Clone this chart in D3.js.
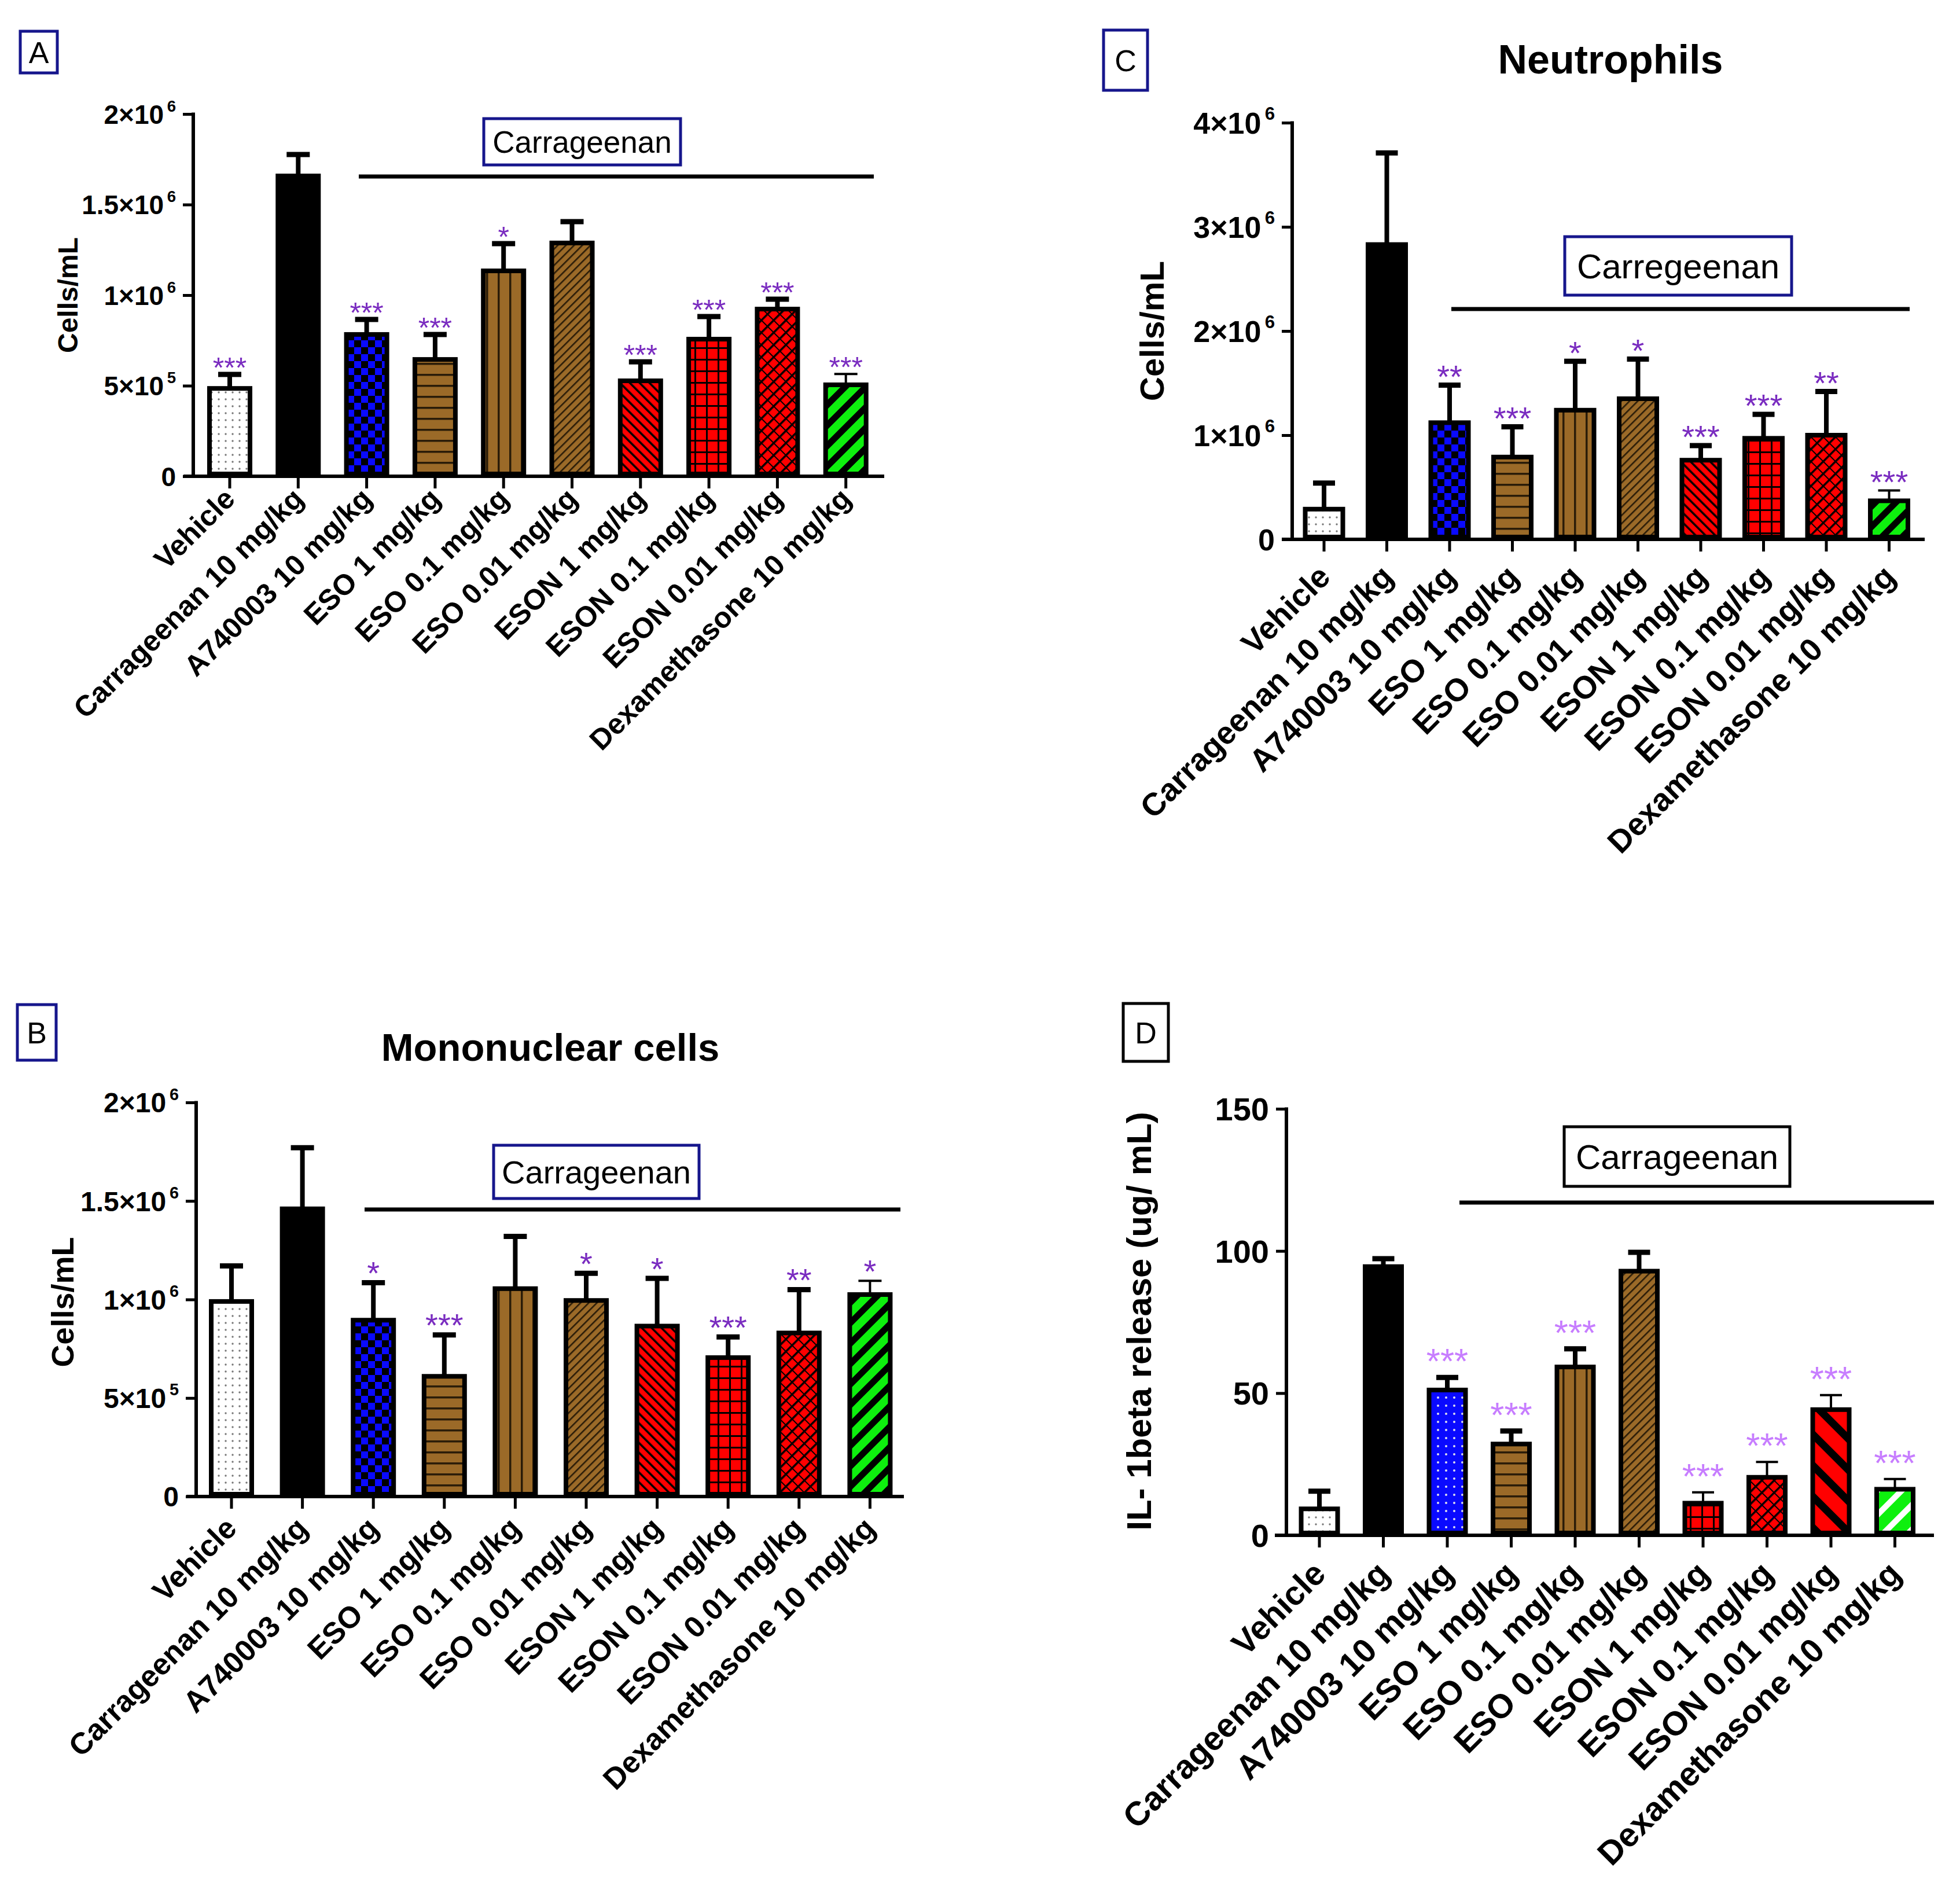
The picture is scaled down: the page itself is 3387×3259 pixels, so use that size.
<!DOCTYPE html>
<html>
<head>
<meta charset="utf-8">
<script src="https://cdn.jsdelivr.net/npm/d3@7"></script>
<style>
  body { margin: 0; background: #fff; }
  text { font-family: "Liberation Sans", Arial, sans-serif; }
</style>
</head>
<body>
<svg id="fig" width="3387" height="3259"></svg>
<script>

// treatment groups, same order in every panel
var groups = ["Vehicle", "Carrageenan 10 mg/kg", "A740003 10 mg/kg", "ESO 1 mg/kg",
  "ESO 0.1 mg/kg", "ESO 0.01 mg/kg", "ESON 1 mg/kg", "ESON 0.1 mg/kg",
  "ESON 0.01 mg/kg", "Dexamethasone 10 mg/kg"];

// A - total leukocytes (cells/mL)
var totalMean = [485000, 1658000, 783000, 645000, 1134000, 1288000, 527000, 757000, 923000, 505000];
var totalSem = [77000, 118000, 83000, 138000, 150000, 118000, 105000, 125000, 55000, 60000];
var totalStars = ["***", "", "***", "***", "*", "", "***", "***", "***", "***"];

// B - mononuclear cells (cells/mL)
var monoMean = [990000, 1460000, 895000, 610000, 1055000, 995000, 865000, 705000, 830000, 1025000];
var monoSem = [180000, 310000, 190000, 210000, 265000, 138000, 242000, 105000, 220000, 70000];
var monoStars = ["", "", "*", "***", "", "*", "*", "***", "**", "*"];

// C - neutrophils (cells/mL)
var neutMean = [290000, 2830000, 1120000, 790000, 1240000, 1350000, 760000, 970000, 1000000, 370000];
var neutSem = [250000, 880000, 360000, 290000, 470000, 380000, 140000, 230000, 420000, 100000];
var neutStars = ["", "", "**", "***", "*", "*", "***", "***", "**", "***"];

// D - IL-1beta release (ug/mL)
var il1Mean = [9.3, 94.5, 51.1, 32.1, 59.2, 92.9, 11.3, 20.4, 44.2, 16.2];
var il1Sem = [6.2, 2.8, 4.4, 4.6, 6.4, 6.6, 3.8, 5.4, 5.1, 3.6];
var il1Stars = ["", "", "***", "***", "***", "", "***", "***", "***", "***"];

// y tick values
var cellTicks2 = [0, 500000, 1000000, 1500000, 2000000];
var cellTicks4 = [0, 1000000, 2000000, 3000000, 4000000];
var il1Ticks = [0, 50, 100, 150];

// bar fills and error bar weight per group
var fillsABC = ["dots", "black", "checker", "brownH", "brownV", "brownD", "redBack", "redGrid", "redWeave", "greenBlack"];
var fillsD = ["dots", "black", "blueDots", "brownH", "brownV", "brownD", "redGrid", "redWeave", "redStripe", "greenWhite"];
var thinABC = [0, 0, 0, 0, 0, 0, 0, 0, 0, 1];
var thinD = [0, 0, 0, 0, 0, 0, 1, 1, 1, 1];

var navy = "#16168c";
var brown = "#9b6a28";
var red = "#ff0000";
var blue = "#0a0aff";
var green = "#0ef00e";

var svg = d3.select("#fig");
svg.append("rect").attr("width", 3387).attr("height", 3259).attr("fill", "#fff");

// ---------- patterns ----------
var defs = svg.append("defs");

function pat(id, w, h, bg, rot) {
  var p = defs.append("pattern").attr("id", id)
    .attr("patternUnits", "userSpaceOnUse")
    .attr("width", w).attr("height", h);
  if (rot) p.attr("patternTransform", "rotate(" + rot + ")");
  p.append("rect").attr("width", w).attr("height", h).attr("fill", bg);
  return p;
}

var p;
p = pat("dots", 12, 12, "#fff");
p.append("circle").attr("cx", 6).attr("cy", 6).attr("r", 1.7).attr("fill", "#777");

p = pat("black", 10, 10, "#000");

p = pat("checker", 24, 24, blue);
p.append("rect").attr("width", 12).attr("height", 12).attr("fill", "#000");
p.append("rect").attr("x", 12).attr("y", 12).attr("width", 12).attr("height", 12).attr("fill", "#000");

p = pat("blueDots", 14, 14, blue);
p.append("circle").attr("cx", 7).attr("cy", 7).attr("r", 2).attr("fill", "#dde");

p = pat("brownH", 20, 19, brown);
p.append("rect").attr("y", 0).attr("width", 20).attr("height", 3.5).attr("fill", "#2a1c08");

p = pat("brownV", 20, 20, brown);
p.append("rect").attr("x", 0).attr("width", 3.5).attr("height", 20).attr("fill", "#2a1c08");

p = pat("brownD", 10, 10, brown, 45);
p.append("rect").attr("width", 2.6).attr("height", 10).attr("fill", "#2a1c08");

p = pat("redBack", 12, 12, red, -45);
p.append("rect").attr("width", 3.5).attr("height", 12).attr("fill", "#000");

p = pat("redGrid", 20, 20, red);
p.append("rect").attr("width", 20).attr("height", 3).attr("fill", "#000");
p.append("rect").attr("width", 3).attr("height", 20).attr("fill", "#000");

p = pat("redWeave", 15, 15, red, 45);
p.append("rect").attr("width", 3.5).attr("height", 15).attr("fill", "#000");
p.append("rect").attr("width", 15).attr("height", 2).attr("fill", "#000");

p = pat("redStripe", 38, 38, red, -45);
p.append("rect").attr("width", 13).attr("height", 38).attr("fill", "#000");

p = pat("greenBlack", 25, 25, green, 45);
p.append("rect").attr("width", 11).attr("height", 25).attr("fill", "#000");

p = pat("greenWhite", 30, 30, green, 45);
p.append("rect").attr("width", 10).attr("height", 30).attr("fill", "#fff");

// ---------- helpers ----------
function tickLabel(sel, v, fs) {
  if (v === 0 || v < 1000) { sel.text(v); return; }
  var e = Math.floor(Math.log10(v) + 1e-9);
  var m = +(v / Math.pow(10, e)).toFixed(2);
  sel.text(m + "\u00d710");
  sel.append("tspan").attr("font-size", fs * 0.6).attr("dx", fs * 0.12).attr("dy", -fs * 0.45).text(e);
}

function drawPanel(c) {
  var g = svg.append("g");
  var data = groups.map(function (name, i) {
    return { name: name, mean: c.mean[i], sem: c.sem[i], star: c.stars[i], fill: c.fills[i], thin: c.thin[i] };
  });

  var pad = 1 - c.barW / c.step;
  var x = d3.scaleBand().domain(groups)
    .range([c.c0 - c.step / 2, c.c0 + c.step * (groups.length - 0.5)])
    .paddingInner(pad).paddingOuter(pad / 2);
  var y = d3.scaleLinear().domain([0, c.ticks[c.ticks.length - 1]]).range([c.y0, c.yTop]);

  // y axis
  var ya = g.append("g").attr("transform", "translate(" + c.ax + ",0)")
    .call(d3.axisLeft(y).tickValues(c.ticks).tickSize(c.tick).tickSizeOuter(0).tickFormat(""));
  ya.select(".domain").remove();
  ya.selectAll(".tick line").attr("stroke", "#000").attr("stroke-width", 5);
  g.append("line").attr("x1", c.ax).attr("x2", c.ax).attr("y1", c.y0 + 3).attr("y2", c.yTop - 2.5)
    .attr("stroke", "#000").attr("stroke-width", 6);

  g.selectAll("text.yt").data(c.ticks).join("text").attr("class", "yt")
    .attr("x", c.ax - c.tick - 12).attr("y", function (d) { return y(d) + c.tfs * 0.36; })
    .attr("text-anchor", "end").attr("font-weight", "bold").attr("font-size", c.tfs)
    .each(function (d) { tickLabel(d3.select(this), d, c.tfs); });

  // x axis
  var xa = g.append("g").attr("transform", "translate(0," + c.y0 + ")")
    .call(d3.axisBottom(x).tickSize(c.tick + 3).tickSizeOuter(0).tickFormat(""));
  xa.select(".domain").remove();
  xa.selectAll(".tick line").attr("stroke", "#000").attr("stroke-width", 5);
  g.append("line").attr("x1", c.xs).attr("x2", c.xe).attr("y1", c.y0).attr("y2", c.y0)
    .attr("stroke", "#000").attr("stroke-width", 6);

  // bars
  var sw = c.sw;
  g.selectAll("rect.bar").data(data).join("rect").attr("class", "bar")
    .attr("x", function (d) { return x(d.name) + sw / 2; })
    .attr("width", x.bandwidth() - sw)
    .attr("y", function (d) { return y(d.mean); })
    .attr("height", function (d) { return c.y0 - y(d.mean) - sw / 2; })
    .attr("fill", function (d) { return "url(#" + d.fill + ")"; })
    .attr("stroke", "#000").attr("stroke-width", sw);

  // error bars (upper only)
  var eb = g.selectAll("g.err").data(data).join("g").attr("class", "err");
  eb.append("line")
    .attr("x1", function (d) { return x(d.name) + x.bandwidth() / 2; })
    .attr("x2", function (d) { return x(d.name) + x.bandwidth() / 2; })
    .attr("y1", function (d) { return y(d.mean); })
    .attr("y2", function (d) { return y(d.mean + d.sem); })
    .attr("stroke", "#000").attr("stroke-width", function (d) { return d.thin ? 4 : 8; });
  eb.append("line")
    .attr("x1", function (d) { return x(d.name) + x.bandwidth() / 2 - c.cap / 2; })
    .attr("x2", function (d) { return x(d.name) + x.bandwidth() / 2 + c.cap / 2; })
    .attr("y1", function (d) { return y(d.mean + d.sem); })
    .attr("y2", function (d) { return y(d.mean + d.sem); })
    .attr("stroke", "#000").attr("stroke-width", function (d) { return d.thin ? 4 : 9; });

  // significance stars
  g.selectAll("text.star").data(data).join("text").attr("class", "star")
    .attr("x", function (d) { return x(d.name) + x.bandwidth() / 2; })
    .attr("y", function (d) { return y(d.mean + d.sem) - c.starGap + c.sfs * 0.58; })
    .attr("text-anchor", "middle").attr("font-size", c.sfs).attr("fill", c.starColor)
    .text(function (d) { return d.star; });

  // category labels
  g.selectAll("text.xl").data(data).join("text").attr("class", "xl")
    .attr("transform", function (d) {
      return "translate(" + (x(d.name) + x.bandwidth() / 2 + c.lx) + "," + (c.y0 + c.ly) + ") rotate(-45)";
    })
    .attr("text-anchor", "end").attr("font-weight", "bold").attr("font-size", c.xfs)
    .text(function (d) { return d.name; });

  // y title
  g.append("text")
    .attr("transform", "translate(" + (c.ytx + c.yfs * 0.36) + "," + c.yty + ") rotate(-90)")
    .attr("text-anchor", "middle").attr("font-weight", "bold").attr("font-size", c.yfs)
    .text(c.ytitle);

  // panel title
  if (c.title) {
    g.append("text").attr("x", c.titleX).attr("y", c.titleY + c.titleFs * 0.36)
      .attr("text-anchor", "middle").attr("font-weight", "bold").attr("font-size", c.titleFs)
      .text(c.title);
  }

  // treatment bracket and boxed label
  g.append("line").attr("x1", c.line[0]).attr("x2", c.line[1]).attr("y1", c.line[2]).attr("y2", c.line[2])
    .attr("stroke", "#000").attr("stroke-width", 7);
  g.append("rect").attr("x", c.box[0]).attr("y", c.box[1]).attr("width", c.box[2]).attr("height", c.box[3])
    .attr("fill", "#fff").attr("stroke", c.boxColor).attr("stroke-width", 5);
  g.append("text").attr("x", c.box[0] + c.box[2] / 2).attr("y", c.box[1] + c.box[3] / 2 + c.boxFs * 0.36)
    .attr("text-anchor", "middle").attr("font-size", c.boxFs).text(c.boxText);

  // panel letter
  g.append("rect").attr("x", c.tag[0]).attr("y", c.tag[1]).attr("width", c.tag[2]).attr("height", c.tag[3])
    .attr("fill", "none").attr("stroke", c.boxColor).attr("stroke-width", 5);
  g.append("text").attr("x", c.tag[0] + c.tag[2] / 2).attr("y", c.tag[1] + c.tag[3] / 2 + 19)
    .attr("text-anchor", "middle").attr("font-size", 52).text(c.letter);
}

drawPanel({
  mean: totalMean, sem: totalSem, stars: totalStars, fills: fillsABC, thin: thinABC, ticks: cellTicks2,
  ax: 334, y0: 823, yTop: 197, c0: 397, step: 118.3, barW: 78, sw: 8, xs: 317, xe: 1528, tick: 18,
  tfs: 46, xfs: 50, lx: 12, ly: 42, cap: 40, sfs: 50, starGap: 23, starColor: "#7a2cc0",
  ytitle: "Cells/mL", ytx: 117, yty: 510, yfs: 48,
  line: [620, 1510, 305], box: [836, 205, 340, 80], boxFs: 53, boxText: "Carrageenan", boxColor: navy,
  tag: [35, 54, 64, 72], letter: "A"
});

drawPanel({
  mean: monoMean, sem: monoSem, stars: monoStars, fills: fillsABC, thin: thinABC, ticks: cellTicks2,
  ax: 339, y0: 2586, yTop: 1905, c0: 400, step: 122.6, barW: 78, sw: 8, xs: 322, xe: 1562, tick: 18,
  tfs: 48, xfs: 52, lx: 12, ly: 58, cap: 40, sfs: 56, starGap: 30, starColor: "#7a2cc0",
  ytitle: "Cells/mL", ytx: 108, yty: 2250, yfs: 54,
  title: "Mononuclear cells", titleX: 951, titleY: 1809, titleFs: 67,
  line: [630, 1556, 2090], box: [853, 1979, 355, 92], boxFs: 56, boxText: "Carrageenan", boxColor: navy,
  tag: [30, 1736, 67, 96], letter: "B"
});

drawPanel({
  mean: neutMean, sem: neutSem, stars: neutStars, fills: fillsABC, thin: thinABC, ticks: cellTicks4,
  ax: 2233, y0: 932, yTop: 212, c0: 2288, step: 108.5, barW: 73, sw: 8, xs: 2215, xe: 3326, tick: 18,
  tfs: 52, xfs: 55, lx: 14, ly: 68, cap: 38, sfs: 56, starGap: 28, starColor: "#7a2cc0",
  ytitle: "Cells/mL", ytx: 1990, yty: 572, yfs: 58,
  title: "Neutrophils", titleX: 2783, titleY: 102, titleFs: 70,
  line: [2508, 3300, 534], box: [2704, 409, 392, 101], boxFs: 60, boxText: "Carregeenan", boxColor: navy,
  tag: [1907, 52, 76, 104], letter: "C"
});

drawPanel({
  mean: il1Mean, sem: il1Sem, stars: il1Stars, fills: fillsD, thin: thinD, ticks: il1Ticks,
  ax: 2223, y0: 2653, yTop: 1916, c0: 2280, step: 110.5, barW: 71, sw: 8, xs: 2203, xe: 3342, tick: 18,
  tfs: 56, xfs: 58, lx: 14, ly: 70, cap: 38, sfs: 62, starGap: 43, starColor: "#c77dff",
  ytitle: "IL- 1beta release (ug/ mL)", ytx: 1967, yty: 2283, yfs: 60,
  line: [2522, 3342, 2078], box: [2703, 1947, 390, 103], boxFs: 60, boxText: "Carrageenan", boxColor: "#000",
  tag: [1941, 1734, 78, 100], letter: "D"
});

</script>
</body>
</html>
